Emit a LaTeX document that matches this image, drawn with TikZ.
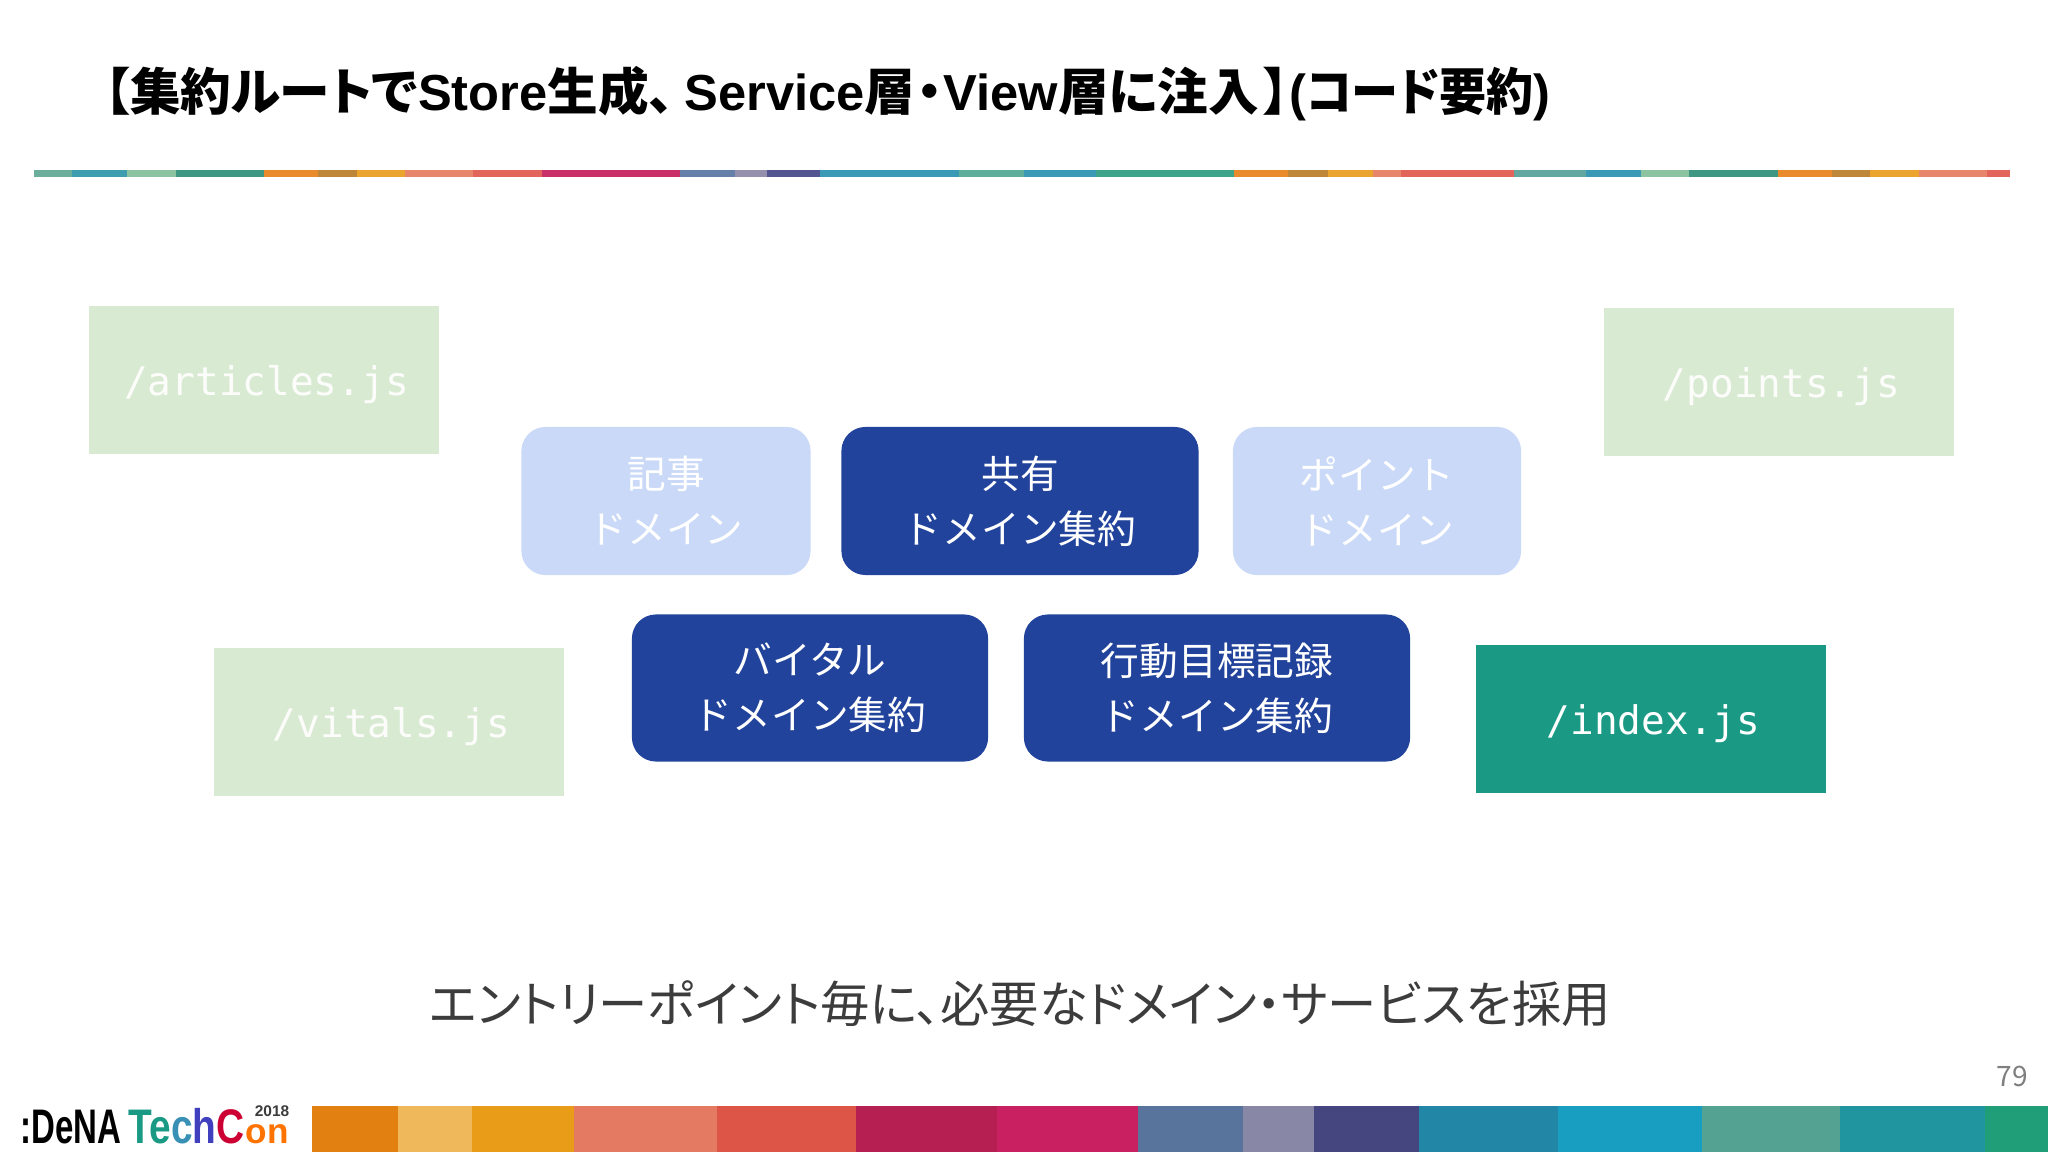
\documentclass[tikz,border=0pt]{standalone}
\usepackage{fontspec}
\setmainfont[RawFeature=+palt]{Noto Sans CJK JP}
\setmonofont{DejaVu Sans Mono}
\newfontfamily\latinbold{Liberation Sans}
\newfontfamily\domfont{Noto Sans CJK JP}
\usetikzlibrary{positioning}
\definecolor{domblue}{HTML}{22439B}
\definecolor{fadeblue}{HTML}{C9D9F7}
\definecolor{entrygreen}{HTML}{1A9A84}
\definecolor{fadegreen}{HTML}{D9EAD3}
\definecolor{capgray}{HTML}{3C3C3C}
\tikzset{
  x=0.01cm,y=-0.01cm,
  dombox/.style={rounded corners=0.24cm,fill=domblue,text=white,align=center,font=\domfont\fontsize{11pt}{15.6pt}\selectfont,inner sep=0pt},
  dombox faded/.style={dombox,fill=fadeblue},
  entrybox/.style={fill=entrygreen,text=white,font=\ttfamily\fontsize{11.2pt}{12pt}\selectfont,inner sep=0pt,text height=0.31cm,text depth=0cm,execute at begin node=\kern0.05cm},
  entrybox faded/.style={entrybox,fill=fadegreen,text=white!92!fadegreen},
}
\begin{document}
\begin{tikzpicture}
	\useasboundingbox (0,0) rectangle (2048,1152);
	% rule under the title
	\foreach \xa/\xb/\col in {34/72/6AAE9B,72/127/3E9DAF,127/176/8CC3A0,176/264/3E9783,264/318/E98B2A,318/357/BD8638,357/405/EBA52F,405/473/E8866C,473/542/E2645A,542/680/C9306A,680/735/6480A8,735/767/9490AE,767/820/535591,820/959/3A9AB5,959/1024/5FAE9C,1024/1096/3A9AB5,1096/1234/3EA58A,1234/1288/E98B2A,1288/1328/BD8638,1328/1373/EBA52F,1373/1401/E8866C,1401/1514/E2645A,1514/1586/62A8A0,1586/1641/3A9AB5,1641/1689/8CC3A0,1689/1778/3E9783,1778/1832/E98B2A,1832/1870/BD8638,1870/1919/EBA52F,1919/1987/E8866C,1987/2010/E2645A}{
		\definecolor{band}{HTML}{\col}
		\fill[band] (\xa,170) rectangle (\xb,177);
	}
	\node[anchor=west,inner sep=0pt,font=\bfseries\fontsize{14.4pt}{16pt}\selectfont] (title) at (104,94) {【集約ルートで{\latinbold\bfseries Store}生成、\kern0.105cm{\latinbold\bfseries Service}層\kern0.015cm・\kern0.015cm{\latinbold\bfseries View}層に注入\kern0.05cm】{\latinbold\bfseries (}\scalebox{0.93}[1]{コード要約}{\latinbold\bfseries )}};
	% entry points
	\node[entrybox faded,minimum width=3.50cm,minimum height=1.47cm] (articles) at (264,380) {/articles.js};
	\node[entrybox faded,minimum width=3.50cm,minimum height=1.47cm] (points) at (1779,382) {/points.js};
	\node[entrybox faded,minimum width=3.50cm,minimum height=1.47cm] (vitals) at (389,722) {/vitals.js};
	\node[entrybox,minimum width=3.50cm,minimum height=1.47cm] (index) at (1651,719) {/index.js};
	% domains
	\node[dombox faded,minimum width=2.89cm,minimum height=1.48cm] (kiji) at (666,501) {記事\\ドメイン};
	\node[dombox,minimum width=3.57cm,minimum height=1.48cm] (kyoyu) at (1020,501) {共有\\ドメイン集約};
	\node[dombox faded,minimum width=2.88cm,minimum height=1.48cm] (point) at (1377,501) {ポイント\\ドメイン};
	\node[dombox,minimum width=3.56cm,minimum height=1.47cm] (vital) at (810,688) {バイタル\\ドメイン集約};
	\node[dombox,minimum width=3.86cm,minimum height=1.47cm] (kodo) at (1217,688) {行動目標記録\\ドメイン集約};
	\node[text=capgray,font=\fontsize{14.03pt}{16pt}\selectfont] (caption) at (1020,1004) {エントリーポイント毎に、必要なドメイン・サービスを採用};
	\node[text=gray,font=\fontsize{8pt}{10pt}\selectfont] (pageno) at (2012,1076) {79};
	% footer band
	\foreach \xa/\xb/\col in {312/398/E38012,398/472/EFB85B,472/574/E89C17,574/717/E57A62,717/856/DD5546,856/997/B51F52,997/1138/C82060,1138/1243/58739C,1243/1314/8888A6,1314/1419/45457F,1419/1558/2287A6,1558/1702/179EC0,1702/1840/54A392,1840/1985/2095A0,1985/2048/209E78}{
		\definecolor{band}{HTML}{\col}
		\fill[band] (\xa,1106) rectangle (\xb,1152);
	}
	% logo
	\node[anchor=base west,font=\latinbold\bfseries\fontsize{13.8pt}{14pt}\selectfont,inner sep=0pt] (dena) at (20,1143) {\scalebox{0.68}[1]{:DeNA}};
	\node[anchor=base west,font=\latinbold\bfseries\fontsize{13.8pt}{14pt}\selectfont,inner sep=0pt] (tech) at (128,1143) {\scalebox{0.8}[1]{\textcolor{entrygreen}{Te}\textcolor{cyan!70!black}{c}\textcolor{blue!50!gray}{h}\textcolor{red!80!blue}{C}}};
	\node[anchor=base west,font=\latinbold\bfseries\fontsize{10pt}{10pt}\selectfont,inner sep=0pt,text=orange!90!red] (con) at (tech.base east) {on};
	\node[anchor=base east,font=\latinbold\bfseries\fontsize{4.4pt}{5pt}\selectfont,inner sep=0pt,text=capgray] (year) at (290,1116) {2018};
\end{tikzpicture}
\end{document}
